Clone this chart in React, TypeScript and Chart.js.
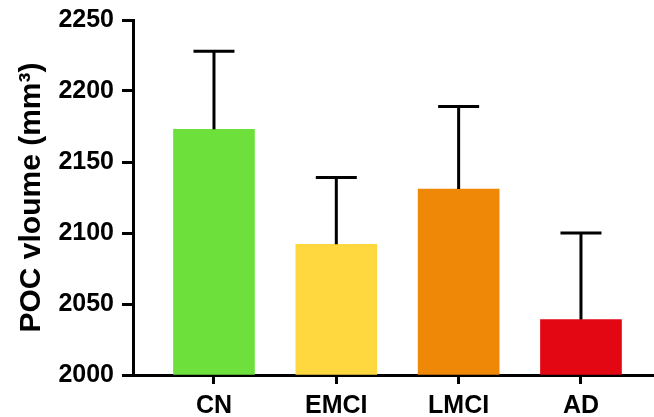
import React, { useEffect, useRef } from "react";
import { Chart, registerables } from "chart.js";

Chart.register(...registerables);

const categories = ["CN", "EMCI", "LMCI", "AD"];
const means = [2173, 2092, 2131, 2039];
const errors = [55, 47, 58, 61];
const barColors = ["#6DE03B", "#FFD83F", "#EE8806", "#E30613"];
const yTicks = [2000, 2050, 2100, 2150, 2200, 2250];

const FONT = "'Liberation Sans', Arial, sans-serif";

const errorBarPlugin = {
  id: "errorBars",
  afterDatasetsDraw(chart: any) {
    const ctx = chart.ctx;
    const meta = chart.getDatasetMeta(0);
    const yScale = chart.scales.y;
    ctx.save();
    ctx.strokeStyle = "#000";
    ctx.lineWidth = 3;
    meta.data.forEach((bar: any, i: number) => {
      const x = bar.x;
      const yTop = yScale.getPixelForValue(means[i] + errors[i]);
      const yBar = yScale.getPixelForValue(means[i]);
      ctx.beginPath();
      ctx.moveTo(x, yBar);
      ctx.lineTo(x, yTop);
      ctx.moveTo(x - 20.5, yTop);
      ctx.lineTo(x + 20.5, yTop);
      ctx.stroke();
    });
    ctx.restore();
  },
};

export default function App() {
  const ref = useRef<HTMLCanvasElement | null>(null);
  useEffect(() => {
    document.body.style.margin = "0";
    if (!ref.current) return;
    const chart = new Chart(ref.current, {
      type: "bar",
      data: {
        datasets: [
          {
            data: categories.map((_, i) => ({ x: i, y: means[i] })),
            backgroundColor: barColors,
            borderWidth: 0,
            base: 2000,
            barThickness: 81,
          } as any,
        ],
      },
      options: {
        responsive: false,
        animation: false,
        layout: { autoPadding: false, padding: { top: 20, right: 0, left: 0, bottom: 0 } },
        plugins: { legend: { display: false }, tooltip: { enabled: false } },
        scales: {
          x: {
            type: "linear",
            min: -0.662,
            max: 3.597,
            offset: false,
            z: 1,
            afterBuildTicks(scale: any) {
              scale.ticks = categories.map((_, i) => ({ value: i }));
            },
            afterFit(scale: any) {
              scale.height = 42;
              scale.paddingLeft = 0;
              scale.paddingRight = 0;
              scale.paddingTop = 0;
              scale.paddingBottom = 0;
            },
            ticks: {
              callback: (v: any) => categories[v] ?? "",
              color: "#000",
              font: { family: FONT, size: 25, weight: "bold" },
              padding: 7,
              maxRotation: 0,
              autoSkip: false,
            },
            grid: {
              offset: false,
              drawOnChartArea: false,
              drawTicks: true,
              tickLength: 9,
              tickWidth: 3,
              tickColor: "#000",
            },
            border: { display: true, color: "#000", width: 3 },
          },
          y: {
            min: 2000,
            max: 2250,
            z: 1,
            afterBuildTicks(scale: any) {
              scale.ticks = yTicks.map((v) => ({ value: v }));
            },
            afterFit(scale: any) {
              scale.width = 133;
              scale.paddingLeft = 0;
              scale.paddingRight = 0;
              scale.paddingTop = 0;
              scale.paddingBottom = 0;
            },
            ticks: {
              callback: (v: any) => String(v),
              color: "#000",
              font: { family: FONT, size: 25, weight: "bold" },
              padding: 8,
            },
            grid: {
              drawOnChartArea: false,
              drawTicks: true,
              tickLength: 11,
              tickWidth: 3,
              tickColor: "#000",
            },
            border: { display: true, color: "#000", width: 3 },
            title: {
              display: true,
              text: "POC vloume (mm³)",
              color: "#000",
              font: { family: FONT, size: 30, weight: "bold" },
              padding: { top: 14, bottom: 4 },
            },
          },
        },
      },
      plugins: [errorBarPlugin],
    });
    return () => chart.destroy();
  }, []);
  return (
    <div style={{ width: 654, height: 417 }}>
      <canvas ref={ref} width={654} height={417} />
    </div>
  );
}
